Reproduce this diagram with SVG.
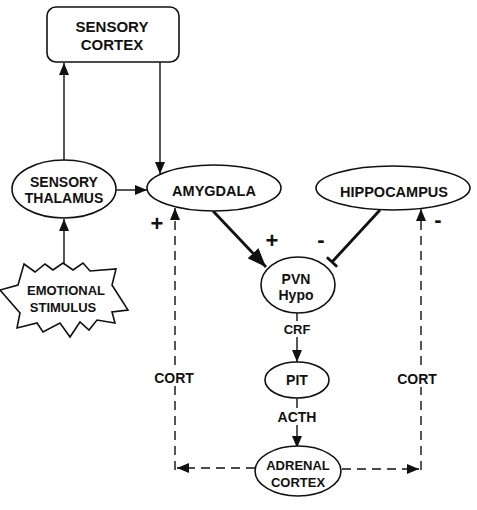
<svg xmlns="http://www.w3.org/2000/svg" width="477" height="510" viewBox="0 0 477 510">
<style>
.shape{fill:#fff;stroke:#111;stroke-width:1.6}
.t{font-family:"Liberation Sans",Arial,sans-serif;font-weight:bold;fill:#111;text-anchor:middle}
.ln{fill:none;stroke:#111;stroke-width:1.4}
.dash{fill:none;stroke:#111;stroke-width:1.4;stroke-dasharray:9 6}
.thick{fill:none;stroke:#111;stroke-width:2.8}
.lbl{fill:#fff;stroke:none}
.sign{font-family:"Liberation Sans",Arial,sans-serif;font-weight:bold;fill:#111;text-anchor:middle;font-size:22px}
</style>
<defs>
<marker id="arr" markerUnits="userSpaceOnUse" markerWidth="12" markerHeight="10" refX="12" refY="5" orient="auto">
<path d="M0,0 L12,5 L0,10 z" fill="#111"/>
</marker>
<marker id="big" markerUnits="userSpaceOnUse" markerWidth="19" markerHeight="15" refX="19" refY="7.5" orient="auto">
<path d="M0,0 L19,7.5 L0,15 z" fill="#111"/>
</marker>
</defs>
<rect width="477" height="510" fill="#fff"/>
<g id="connectors">
<path class="ln" d="M64,160 L64,63" marker-end="url(#arr)"/>
<path class="ln" d="M160,62 L160,174" marker-end="url(#arr)"/>
<path class="ln" d="M116,190 L147,190" marker-end="url(#arr)"/>
<path class="ln" d="M64,264 L64,219" marker-end="url(#arr)"/>
<path class="thick" d="M213,211 L266,267" marker-end="url(#big)"/>
<path class="thick" d="M380,210 L332,262"/>
<path class="thick" d="M326.9,257.3 L337.1,266.7"/>
<path class="ln" d="M297,313 L297,362" marker-end="url(#arr)"/>
<path class="ln" d="M297,398 L297,448" marker-end="url(#arr)"/>
<path class="dash" d="M255,468 L177,468" marker-end="url(#arr)"/>
<path class="dash" d="M175,470 L175,208" marker-end="url(#arr)"/>
<path class="dash" d="M342,469 L419,469" marker-end="url(#arr)"/>
<path class="dash" d="M421,470 L421,209" marker-end="url(#arr)"/>
<rect class="lbl" x="281" y="321" width="32" height="16"/>
<text class="t" x="297" y="334" font-size="13">CRF</text>
<rect class="lbl" x="276" y="408" width="42" height="17"/>
<text class="t" x="297" y="422" font-size="14">ACTH</text>
<rect class="lbl" x="153" y="368" width="44" height="18"/>
<text class="t" x="174" y="383" font-size="14">CORT</text>
<rect class="lbl" x="396" y="369" width="44" height="18"/>
<text class="t" x="417" y="384" font-size="14">CORT</text>
<text class="sign" x="272" y="248">+</text>
<text class="sign" x="321" y="247">-</text>
<text class="sign" x="157" y="231" fill="#151540">+</text>
<text class="sign" x="438" y="227" fill="#151540">-</text>
</g>
<g id="sensory-cortex">
<rect class="shape" x="47" y="7" width="132" height="55" rx="9"/>
<text class="t" x="112" y="32" font-size="15">SENSORY</text>
<text class="t" x="112" y="50" font-size="15">CORTEX</text>
</g>
<g id="sensory-thalamus">
<ellipse class="shape" cx="64" cy="189" rx="52" ry="29"/>
<text class="t" x="64" y="187" font-size="14">SENSORY</text>
<text class="t" x="64" y="203" font-size="14">THALAMUS</text>
</g>
<g id="amygdala">
<ellipse class="shape" cx="214" cy="188" rx="67" ry="23"/>
<text class="t" x="214" y="196" font-size="14.5">AMYGDALA</text>
</g>
<g id="hippocampus">
<ellipse class="shape" cx="393" cy="188" rx="77" ry="22"/>
<text class="t" x="394" y="197" font-size="14.5">HIPPOCAMPUS</text>
</g>
<g id="emotional-stimulus">
<polygon class="shape" points="24,264 35,272 45,264 53,270 63,263 73,270 83,263 90,271 116,269 112,285 128,310 112,312 115,323 97,320 89,330 80,322 70,337 60,323 43,332 37,323 17,328 20,313 0,290 18,285"/>
<text class="t" x="66" y="295" font-size="13">EMOTIONAL</text>
<text class="t" x="63" y="312" font-size="13">STIMULUS</text>
</g>
<g id="pvn-hypo">
<ellipse class="shape" cx="298" cy="285" rx="37" ry="28"/>
<text class="t" x="296" y="284" font-size="14">PVN</text>
<text class="t" x="296" y="300" font-size="14">Hypo</text>
</g>
<g id="pit">
<ellipse class="shape" cx="297" cy="380" rx="32" ry="18"/>
<text class="t" x="297" y="385" font-size="14">PIT</text>
</g>
<g id="adrenal-cortex">
<ellipse class="shape" cx="298" cy="471" rx="43" ry="25"/>
<text class="t" x="298" y="470" font-size="13">ADRENAL</text>
<text class="t" x="298" y="487" font-size="13">CORTEX</text>
</g>
</svg>
